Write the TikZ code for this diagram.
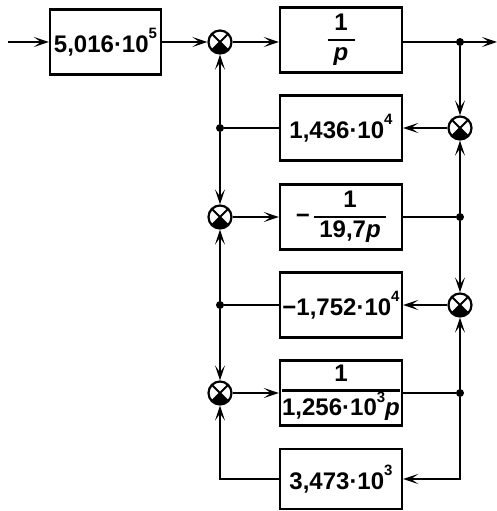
\documentclass[tikz,border=0pt]{standalone}
\usepackage{fontspec}
\setmainfont{Liberation Sans}
\usetikzlibrary{arrows.meta}
\setlength\arrayrulewidth{2.2pt}
\newcommand\pw[1]{\raisebox{13.5pt}{\fontsize{15}{15}\selectfont #1}}
\newcommand\vfrac[3]{\begin{tabular}{@{}c@{}}\makebox[#1]{#2}\\\hline\rule{0pt}{19pt}#3\end{tabular}}
\begin{document}
\begin{tikzpicture}[x=1pt,y=1pt,
  font=\fontsize{24}{27}\selectfont\bfseries,
  blk/.style={draw, line width=2.4pt, minimum width=122pt, minimum height=65pt, inner sep=0pt},
  sumn/.style={circle, draw, line width=2.2pt, minimum size=23pt, inner sep=0pt,
    path picture={
      \begin{scope}[shift={(path picture bounding box.center)}]
        \fill (0,0) -- (-45:13pt) arc[start angle=-45, end angle=-135, radius=13pt] -- cycle;
        \draw[line width=1.8pt] (-45:13pt) -- (135:13pt) (45:13pt) -- (-135:13pt);
      \end{scope}}},
  conn/.style={line width=2pt},
  arr/.style={conn, -{Stealth[length=15pt,width=10pt,inset=7pt]}},
  dot/.style={circle, fill, inner sep=0pt, minimum size=8pt}]
\useasboundingbox (0,0) rectangle (497,-511);

\coordinate (in) at (8,-42);
\coordinate (out) at (497,-42);
\node[blk, minimum width=111pt] (b1) at (105.5,-42) {5,016·10\pw{5}};
\node[sumn] (s1) at (220,-42) {};
\node[blk] (b2) at (341,-40) {\vfrac{27pt}{1}{\textit{p}}};
\node[dot] (d1) at (460,-42) {};

\node[sumn] (s2) at (460,-128) {};
\node[blk] (b3) at (341,-128) {1,436·10\pw{4}};
\node[dot] (d2) at (220,-128) {};

\node[sumn] (s3) at (220,-217) {};
\node[blk] (b4) at (341,-217) {−\,\vfrac{72pt}{1}{19,7\textit{p}}};
\node[dot] (d3) at (460,-217) {};

\node[sumn] (s4) at (460,-305) {};
\node[blk] (b5) at (341,-305) {−1,752·10\pw{4}};
\node[dot] (d4) at (220,-305) {};

\node[sumn] (s5) at (220,-393) {};
\node[blk] (b6) at (341,-393) {\vfrac{0pt}{1}{1,256·10\pw{3}\textit{p}}};
\node[dot] (d5) at (460,-393) {};

\node[blk, minimum height=60pt] (b7) at (341,-479) {3,473·10\pw{3}};
\coordinate (c1) at (460,-479);
\coordinate (c2) at (220,-479);

\draw[arr] (in) -- (b1);
\draw[arr] (b1) -- (s1);
\draw[arr] (s1) -- (s1 -| b2.west);
\draw[arr] (b2.east |- d1) -- (out);
\draw[arr] (d1) -- (s2);
\draw[arr] (s2) -- (b3);
\draw[conn] (b3) -- (d2);
\draw[arr] (d2) -- (s1);
\draw[arr] (d2) -- (s3);
\draw[arr] (s3) -- (b4);
\draw[conn] (b4) -- (d3);
\draw[arr] (d3) -- (s2);
\draw[arr] (d3) -- (s4);
\draw[arr] (s4) -- (b5);
\draw[conn] (b5) -- (d4);
\draw[arr] (d4) -- (s3);
\draw[arr] (d4) -- (s5);
\draw[arr] (s5) -- (b6);
\draw[conn] (b6) -- (d5);
\draw[arr] (d5) -- (s4);
\draw[arr] (d5) -- (c1) -- (b7);
\draw[arr] (b7) -- (c2) -- (s5);
\end{tikzpicture}
\end{document}
